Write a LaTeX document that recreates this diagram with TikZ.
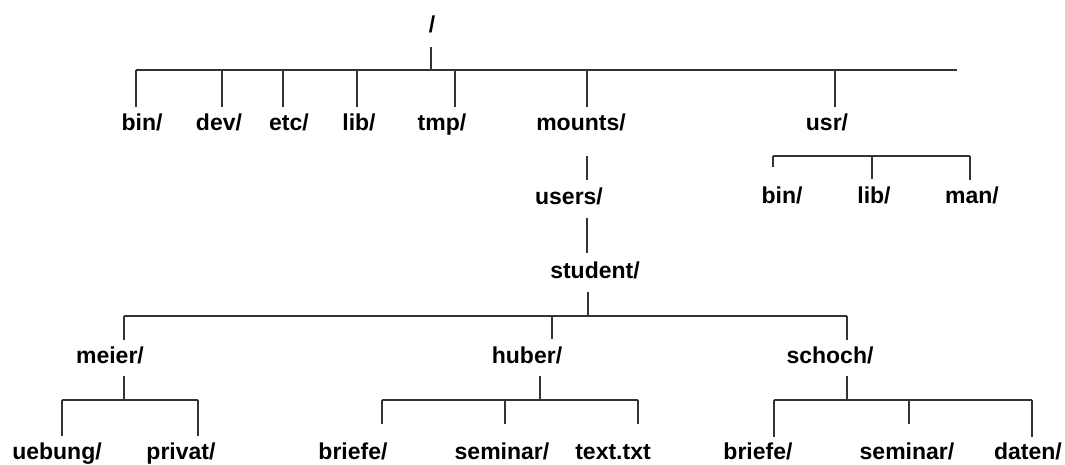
\documentclass[tikz,border=0pt]{standalone}
\usepackage{fontspec}
\setmainfont{Liberation Sans}
\begin{document}
\begin{tikzpicture}[x=1pt,y=-1pt,
  lbl/.style={anchor=base, inner sep=0pt, font=\fontsize{23}{25}\selectfont\bfseries},
  conn/.style={line width=1.3pt, draw=black!80}]
\useasboundingbox (0,0) rectangle (1065,464);
% ---------- labels ----------
\node[lbl] (root) at (432,32) {/};
\node[lbl] (bin) at (142,130) {bin/};
\node[lbl] (dev) at (219,130) {dev/};
\node[lbl] (etc) at (289,130) {etc/};
\node[lbl] (lib) at (359,130) {lib/};
\node[lbl] (tmp) at (442,130) {tmp/};
\node[lbl] (mounts) at (581,130) {mounts/};
\node[lbl] (usr) at (827,130) {usr/};
\node[lbl] (users) at (569,204) {users/};
\node[lbl] (ubin) at (782,203) {bin/};
\node[lbl] (ulib) at (874,203) {lib/};
\node[lbl] (uman) at (972,203) {man/};
\node[lbl] (student) at (595,278) {student/};
\node[lbl] (meier) at (110,363) {meier/};
\node[lbl] (huber) at (527,363) {huber/};
\node[lbl] (schoch) at (830,363) {schoch/};
\node[lbl] (uebung) at (57,459) {uebung/};
\node[lbl] (privat) at (181,459) {privat/};
\node[lbl] (hbriefe) at (353,459) {briefe/};
\node[lbl] (hseminar) at (502,459) {seminar/};
\node[lbl] (htext) at (613,459) {text.txt};
\node[lbl] (sbriefe) at (758,459) {briefe/};
\node[lbl] (sseminar) at (907,459) {seminar/};
\node[lbl] (sdaten) at (1028,459) {daten/};
% ---------- connector end points ----------
\coordinate (rootS) at (431,47);
\coordinate (busAL) at (136,70);
\coordinate (busAR) at (957,70);
\coordinate (binT) at (136,107);
\coordinate (devT) at (222,107);
\coordinate (etcT) at (283,107);
\coordinate (libT) at (357,107);
\coordinate (tmpT) at (455,107);
\coordinate (mountsT) at (587,107);
\coordinate (usrT) at (835,107);
\coordinate (mountsS) at (587,156);
\coordinate (usersT) at (587,180);
\coordinate (usersS) at (587,218);
\coordinate (studentT) at (587,253);
\coordinate (busUL) at (773,156);
\coordinate (busUR) at (970,156);
\coordinate (ubinT) at (773,167);
\coordinate (ulibT) at (872,179);
\coordinate (umanT) at (970,180);
\coordinate (studentS) at (588,292);
\coordinate (busSL) at (124,316);
\coordinate (busSR) at (847,316);
\coordinate (meierT) at (124,340);
\coordinate (huberT) at (552,339);
\coordinate (schochT) at (847,340);
\coordinate (meierS) at (124,376);
\coordinate (busML) at (62,400);
\coordinate (busMR) at (198,400);
\coordinate (uebungT) at (62,436);
\coordinate (privatT) at (198,436);
\coordinate (huberS) at (540,376);
\coordinate (busHL) at (382,400);
\coordinate (busHR) at (638,400);
\coordinate (hbriefeT) at (382,424);
\coordinate (hseminarT) at (505,424);
\coordinate (htextT) at (638,424);
\coordinate (schochS) at (847,376);
\coordinate (busCL) at (774,400);
\coordinate (busCR) at (1032,400);
\coordinate (sbriefeT) at (774,437);
\coordinate (sseminarT) at (909,424);
\coordinate (sdatenT) at (1032,437);
% ---------- connectors ----------
% root level
\draw[conn] (rootS) -- (rootS |- busAL);
\draw[conn] (busAL) -- (busAR);
\foreach \c in {binT,devT,etcT,libT,tmpT,mountsT,usrT}
  \draw[conn] (\c |- busAL) -- (\c);
% mounts chain
\draw[conn] (mountsS) -- (usersT);
\draw[conn] (usersS) -- (studentT);
% usr
\draw[conn] (busUL) -- (busUR);
\foreach \c in {ubinT,ulibT,umanT}
  \draw[conn] (\c |- busUL) -- (\c);
% student
\draw[conn] (studentS) -- (studentS |- busSL);
\draw[conn] (busSL) -- (busSR);
\foreach \c in {meierT,huberT,schochT}
  \draw[conn] (\c |- busSL) -- (\c);
% meier
\draw[conn] (meierS) -- (meierS |- busML);
\draw[conn] (busML) -- (busMR);
\foreach \c in {uebungT,privatT}
  \draw[conn] (\c |- busML) -- (\c);
% huber
\draw[conn] (huberS) -- (huberS |- busHL);
\draw[conn] (busHL) -- (busHR);
\foreach \c in {hbriefeT,hseminarT,htextT}
  \draw[conn] (\c |- busHL) -- (\c);
% schoch
\draw[conn] (schochS) -- (schochS |- busCL);
\draw[conn] (busCL) -- (busCR);
\foreach \c in {sbriefeT,sseminarT,sdatenT}
  \draw[conn] (\c |- busCL) -- (\c);
\end{tikzpicture}
\end{document}
